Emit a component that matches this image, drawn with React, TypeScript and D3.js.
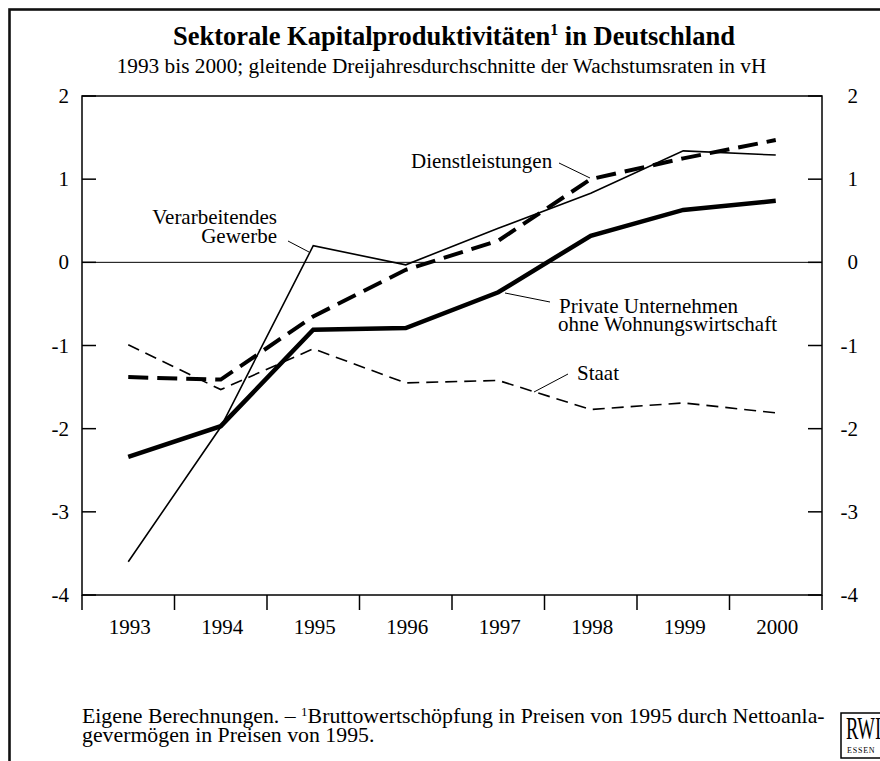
import React from 'react';
import * as d3 from 'd3';

const years = ['1993', '1994', '1995', '1996', '1997', '1998', '1999', '2000'];
const privateUnternehmen = [-2.34, -1.97, -0.81, -0.79, -0.36, 0.32, 0.63, 0.74];
const dienstleistungen = [-1.38, -1.41, -0.65, -0.09, 0.26, 1.0, 1.25, 1.47];
const verarbeitendesGewerbe = [-3.6, -1.98, 0.2, -0.03, 0.41, 0.83, 1.34, 1.29];
const staat = [-0.99, -1.53, -1.04, -1.45, -1.42, -1.77, -1.69, -1.81];
const yTicks = [2, 1, 0, -1, -2, -3, -4];

const FONT = '"Liberation Serif", "Times New Roman", serif';

export default function App() {
  const left = 82, right = 822, top = 96, bottom = 595;
  const x = d3.scaleBand<string>().domain(years).range([left, right]);
  const y = d3.scaleLinear().domain([-4, 2]).range([bottom, top]);
  const cx = (i: number) => (x(years[i]) as number) + x.bandwidth() / 2;
  const line = d3.line<number>().x((_, i) => cx(i)).y((d) => y(d));
  const boundaries = [...years.map((yr) => x(yr) as number), right];

  const series = [
    { data: staat, w: 1.6, dash: '12 7' },
    { data: verarbeitendesGewerbe, w: 1.6, dash: undefined },
    { data: dienstleistungen, w: 4, dash: '20 9' },
    { data: privateUnternehmen, w: 4.5, dash: undefined },
  ];

  return (
    <svg width={880} height={761} style={{ position: 'absolute', left: 0, top: 0, background: '#fff' }}
      fontFamily={FONT}>
      <rect x={0} y={0} width={880} height={761} fill="#fff" />
      {/* outer frame */}
      <rect x={9.5} y={9.5} width={1000} height={1000} fill="none" stroke="#111" strokeWidth={2.6} />

      {/* title */}
      <text x={454} y={45} textAnchor="middle" fontSize={26.5} fontWeight="bold">
        Sektorale Kapitalproduktivitäten<tspan fontSize={16} dy={-10}>1</tspan>
        <tspan dy={10}> in Deutschland</tspan>
      </text>
      <text x={441.5} y={73} textAnchor="middle" fontSize={21.3}>
        1993 bis 2000; gleitende Dreijahresdurchschnitte der Wachstumsraten in vH
      </text>

      {/* zero line */}
      <line x1={left} x2={right} y1={y(0)} y2={y(0)} stroke="#000" strokeWidth={1} />

      {/* series */}
      {series.map((s, k) => (
        <path key={k} d={line(s.data) as string} fill="none" stroke="#000" strokeWidth={s.w}
          strokeDasharray={s.dash} strokeLinejoin="miter" strokeLinecap="butt" />
      ))}

      {/* frame of plot */}
      <rect x={left} y={top} width={right - left} height={bottom - top} fill="none" stroke="#000" strokeWidth={1.5} />
      {/* x ticks */}
      {boundaries.map((b, i) => (
        <line key={i} x1={b} x2={b} y1={bottom} y2={610} stroke="#000" strokeWidth={1.5} />
      ))}
      {years.map((yr, i) => (
        <text key={yr} x={cx(i) + 1.5} y={634} textAnchor="middle" fontSize={21}>{yr}</text>
      ))}
      {/* y ticks */}
      {yTicks.map((t) => (
        <g key={t}>
          <line x1={left} x2={left + 14} y1={y(t)} y2={y(t)} stroke="#000" strokeWidth={1.5} />
          <line x1={right - 14} x2={right} y1={y(t)} y2={y(t)} stroke="#000" strokeWidth={1.5} />
          <text x={69} y={y(t) + 7} textAnchor="end" fontSize={21}>{String(t)}</text>
          <text x={858} y={y(t) + 7} textAnchor="end" fontSize={21}>{String(t)}</text>
        </g>
      ))}

      {/* annotations */}
      <g fontSize={21}>
        <text x={277} y={224} textAnchor="end">Verarbeitendes</text>
        <text x={277} y={243} textAnchor="end">Gewerbe</text>
        <line x1={288} y1={241} x2={309} y2={252} stroke="#000" strokeWidth={1} />

        <text x={411} y={168}>Dienstleistungen</text>
        <line x1={559} y1={163} x2={590} y2={178} stroke="#000" strokeWidth={1} />

        <text x={559} y={313}>Private Unternehmen</text>
        <text x={558} y={331}>ohne Wohnungswirtschaft</text>
        <line x1={505} y1={293} x2={550} y2={302} stroke="#000" strokeWidth={1} />

        <text x={577} y={380}>Staat</text>
        <line x1={568} y1={374} x2={534} y2={392} stroke="#000" strokeWidth={1} />
      </g>

      {/* footer */}
      <text x={82} y={723} fontSize={21.8}>
        Eigene Berechnungen. – <tspan fontSize={13} dy={-7}>1</tspan><tspan dy={7}>Bruttowertschöpfung in Preisen von 1995 durch Nettoanla-</tspan>
      </text>
      <text x={82} y={742} fontSize={21.8}>gevermögen in Preisen von 1995.</text>

      {/* logo */}
      <rect x={841} y={713} width={60} height={45} fill="none" stroke="#000" strokeWidth={1.5} />
      <text transform="translate(846,739) scale(0.6,1)" fontSize={31}>RWI</text>
      <text x={847} y={753} fontSize={8} letterSpacing={0.8}>ESSEN</text>
    </svg>
  );
}
